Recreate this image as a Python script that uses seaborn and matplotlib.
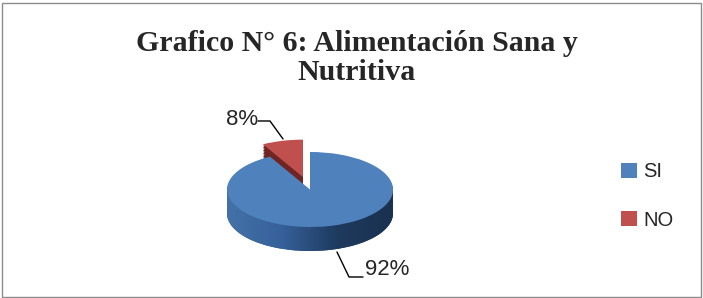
import numpy as np
import matplotlib
matplotlib.use('Agg')
import matplotlib.pyplot as plt
from matplotlib.colors import LinearSegmentedColormap
from matplotlib.patches import Polygon, Rectangle
import seaborn as sns

# data
labels = ['SI', 'NO']
values = [92, 8]
pct_labels = ['92%', '8%']
top_colors = ['#4F81BD', '#C0504D']
side_colors = ['#2E5585', '#6E2523']
explode = [0, 0.34]

sns.set_theme(style='white')
plt.rcParams['font.family'] = ['Liberation Sans', 'DejaVu Sans']

fig = plt.figure(figsize=(7.03, 2.98), dpi=100)
fig.patch.set_facecolor('white')

# pie area: 1 data unit = 83 px in x, 37.5 px in y
xl, yl = 2.2, 2.8
w_px, h_px = 2 * xl * 83, 2 * yl * 37.5
cx, cy = 310, 298 - 189.5
ax = fig.add_axes([(cx - w_px / 2) / 703, (cy - h_px / 2) / 298, w_px / 703, h_px / 298])

depth = 0.64
n_layers = 16
wp = dict(linewidth=0)

# side layers
for k in range(n_layers, 0, -1):
    ax.pie(values, startangle=90, counterclock=False, explode=explode,
           colors=side_colors, center=(0, -depth * k / n_layers), wedgeprops=wp)

# gradient on the front side band
t = np.linspace(np.pi, 2 * np.pi, 200)
band = np.concatenate([np.c_[np.cos(t), np.sin(t) - depth],
                       np.c_[np.cos(t[::-1]), np.sin(t[::-1])]])
clip = Polygon(band, closed=True, transform=ax.transData, facecolor='none', edgecolor='none')
ax.add_patch(clip)
cmap = LinearSegmentedColormap.from_list('side', ['#4472A8', '#36609A', '#1E3A5E', '#1A3150'])
grad = np.linspace(0, 1, 256).reshape(1, -1)
im = ax.imshow(grad, cmap=cmap, extent=[-1, 1, -1 - depth, 0], aspect='auto', zorder=2)
im.set_clip_path(clip)

# top face
wedges, _ = ax.pie(values, startangle=90, counterclock=False, explode=explode,
                   colors=top_colors, wedgeprops=dict(linewidth=0, zorder=3))
for w in wedges:
    w.set_zorder(3)

ax.set_aspect('auto')
ax.set_xlim(-xl, xl)
ax.set_ylim(-yl, yl)
ax.axis('off')

# percentage labels with leader lines
ax.plot([-0.627, -0.482, -0.325], [1.827, 1.827, 1.347], color='black', lw=1, zorder=4)
ax.text(-0.63, 1.86, pct_labels[1], ha='right', va='center', fontsize=16, zorder=4)
ax.plot([0.325, 0.470, 0.639], [-1.667, -2.333, -2.333], color='black', lw=1, zorder=4)
ax.text(0.66, -2.13, pct_labels[0], ha='left', va='center', fontsize=16, zorder=4)

fig.legend(wedges, labels, loc='center left', bbox_to_anchor=(603 / 703, 102 / 298),
           frameon=False, fontsize=14.5, handlelength=0.8, handleheight=0.8,
           handletextpad=0.3, labelspacing=1.45)

fig.text(357 / 703, 1 - 58 / 298, 'Grafico N° 6: Alimentación Sana y\nNutritiva',
         ha='center', va='center', fontsize=21.5, fontweight='bold',
         family=['Liberation Serif', 'DejaVu Serif'], linespacing=1.05)

fig.patches.append(Rectangle((1.5 / 703, 1.5 / 298), 699 / 703, 294 / 298, transform=fig.transFigure,
                             fill=False, edgecolor='#8C8C8C', lw=1))

fig.savefig('out.png', dpi=100)
